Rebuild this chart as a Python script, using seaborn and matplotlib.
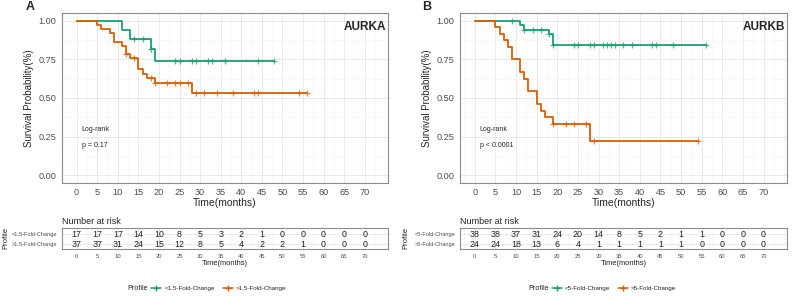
import numpy as np
import matplotlib.pyplot as plt
import seaborn as sns
from matplotlib.lines import Line2D
from matplotlib.ticker import MultipleLocator

sns.set_style("whitegrid")
plt.rcParams["font.family"] = ["Liberation Sans", "DejaVu Sans"]

GREEN = "#1b9e77"
ORANGE = "#d95f02"
GREEN_LIGHT = "#4dbb9a"
ORANGE_LIGHT = "#e8853a"

time_ticks = list(range(0, 75, 5))

# panel A - AURKA
a_low_label = "<1.5-Fold-Change"
a_high_label = ">1.5-Fold-Change"
a_low_t = [0, 11, 13, 18, 19, 48]
a_low_s = [1.0, 0.941, 0.882, 0.814, 0.740, 0.740]
a_low_cens = [14, 16, 18, 24, 25, 28, 29, 32, 33, 36, 44, 48]
a_high_t = [0, 5, 6, 8, 9, 11, 12, 13, 15, 16, 17, 19, 28, 56]
a_high_s = [1.0, 0.973, 0.946, 0.919, 0.865, 0.838, 0.784, 0.757, 0.689, 0.655, 0.627, 0.595, 0.533, 0.533]
a_high_cens = [12, 14, 18, 19, 22, 24, 25, 27, 29, 31, 34, 38, 43, 44, 54, 56]
a_low_risk = [17, 17, 17, 14, 10, 8, 5, 3, 2, 1, 0, 0, 0, 0, 0]
a_high_risk = [37, 37, 31, 24, 15, 12, 8, 5, 4, 2, 2, 1, 0, 0, 0]

# panel B - AURKB
b_low_label = "<5-Fold-Change"
b_high_label = ">5-Fold-Change"
b_low_t = [0, 11, 12, 18, 19, 56]
b_low_s = [1.0, 0.974, 0.942, 0.912, 0.846, 0.846]
b_low_cens = [9, 12, 14, 16, 18, 19, 24, 25, 28, 29, 31, 32, 33, 34, 36, 38, 43, 44, 48, 56]
b_high_t = [0, 5, 6, 7, 8, 9, 11, 12, 13, 15, 16, 17, 19, 28, 54]
b_high_s = [1.0, 0.958, 0.917, 0.875, 0.833, 0.750, 0.667, 0.625, 0.542, 0.458, 0.417, 0.375, 0.333, 0.222, 0.222]
b_high_cens = [19, 22, 24, 27, 29, 54]
b_low_risk = [38, 38, 37, 31, 24, 20, 14, 8, 5, 2, 1, 1, 0, 0, 0]
b_high_risk = [24, 24, 18, 13, 6, 4, 1, 1, 1, 1, 1, 0, 0, 0, 0]

XLIM = (-3.6, 75.6)
BORDER = "#8c8c8c"
TICKC = "#4d4d4d"


def step_value(times, surv, t):
    idx = np.searchsorted(times, t, side="right") - 1
    return surv[idx]


def style_axes(ax, tick_size):
    for sp in ax.spines.values():
        sp.set_color(BORDER)
        sp.set_linewidth(0.8)
    ax.grid(which="major", color="#e6e6e6", lw=0.6)
    ax.grid(which="minor", color="#f2f2f2", lw=0.4)
    ax.tick_params(which="major", length=2.5, width=0.6, color=BORDER,
                   labelsize=tick_size, labelcolor=TICKC, pad=1.5)
    ax.tick_params(which="minor", length=0)


def km_panel(fig, rect, low, high, gene, pval):
    ax = fig.add_axes(rect)
    for (t, s, cens), col in zip([low, high], [GREEN, ORANGE]):
        sns.lineplot(x=t, y=s, ax=ax, color=col, lw=1.3, drawstyle="steps-post",
                     sort=False, estimator=None)
        cy = [step_value(t, s, c) for c in cens]
        ax.plot(cens, cy, ls="none", marker="+", ms=4.5, mew=0.9, color=col, alpha=0.75)
    ax.set_xlim(*XLIM)
    ax.set_ylim(-0.05, 1.05)
    ax.set_xticks(time_ticks)
    ax.set_yticks([0, 0.25, 0.5, 0.75, 1.0])
    ax.set_yticklabels(["0.00", "0.25", "0.50", "0.75", "1.00"])
    ax.xaxis.set_minor_locator(MultipleLocator(2.5))
    ax.yaxis.set_minor_locator(MultipleLocator(0.125))
    style_axes(ax, 6.6)
    ax.set_xlabel("Time(months)", fontsize=7.5, labelpad=0.5)
    ax.set_ylabel("Survival Probability(%)", fontsize=7, labelpad=3)
    ax.text(0.995, 0.955, gene, transform=ax.transAxes, ha="right", va="top",
            fontsize=8.5, fontweight="bold")
    ax.text(1.2, 0.295, "Log-rank", fontsize=5, va="center")
    ax.text(1.2, 0.19, pval, fontsize=5, va="center")
    return ax


def risk_panel(fig, rect, low_risk, high_risk, low_label, high_label, x_profile):
    ax = fig.add_axes(rect)
    for row, vals in [(2, low_risk), (1, high_risk)]:
        for t, v in zip(time_ticks, vals):
            ax.text(t, row, str(v), ha="center", va="center", fontsize=6.4, color="#222222")
    ax.set_xlim(*XLIM)
    ax.set_ylim(0.55, 2.6)
    ax.set_xticks(time_ticks)
    ax.set_yticks([1, 2])
    ax.set_yticklabels([high_label, low_label])
    ax.get_yticklabels()[0].set_color(ORANGE_LIGHT)
    ax.get_yticklabels()[1].set_color(GREEN_LIGHT)
    ax.xaxis.set_minor_locator(MultipleLocator(2.5))
    style_axes(ax, 4.2)
    ax.tick_params(axis="y", labelsize=4.1, pad=1)
    ax.set_xlabel("Time(months)", fontsize=5.4, labelpad=0.5, color="#222222")
    fig.text(x_profile, rect[1] + rect[3] / 2, "Profile", fontsize=5.6,
             rotation=90, ha="center", va="center")
    ax.set_title("Number at risk", fontsize=6.5, loc="left", pad=2.5)
    return ax


def legend(fig, x_profile, low_label, high_label):
    fig.text(x_profile, 0.025, "Profile", fontsize=5.2, va="center")
    handles = [Line2D([], [], color=GREEN, marker="+", ms=4.5, lw=1.1),
               Line2D([], [], color=ORANGE, marker="+", ms=4.5, lw=1.1)]
    fig.legend(handles, [low_label, high_label], loc="center left",
               bbox_to_anchor=(x_profile + 0.03, 0.025), ncol=2, frameon=False,
               fontsize=4.5, handlelength=1.6, handletextpad=0.5, columnspacing=1.2,
               borderpad=0, borderaxespad=0)


fig = plt.figure(figsize=(7.93, 2.96), dpi=100)

km_panel(fig, [0.078, 0.382, 0.411, 0.574],
         (a_low_t, a_low_s, a_low_cens), (a_high_t, a_high_s, a_high_cens), "AURKA", "p = 0.17")
km_panel(fig, [0.580, 0.382, 0.412, 0.574],
         (b_low_t, b_low_s, b_low_cens), (b_high_t, b_high_s, b_high_cens), "AURKB", "p < 0.0001")
risk_panel(fig, [0.078, 0.159, 0.411, 0.071], a_low_risk, a_high_risk,
           a_low_label, a_high_label, 0.007)
risk_panel(fig, [0.580, 0.159, 0.412, 0.071], b_low_risk, b_high_risk,
           b_low_label, b_high_label, 0.512)

fig.text(0.032, 0.975, "A", fontsize=9, fontweight="bold", va="center")
fig.text(0.532, 0.975, "B", fontsize=9, fontweight="bold", va="center")

legend(fig, 0.161, a_low_label, a_high_label)
legend(fig, 0.666, b_low_label, b_high_label)

fig.savefig("out.png", dpi=100)
plt.close(fig)
